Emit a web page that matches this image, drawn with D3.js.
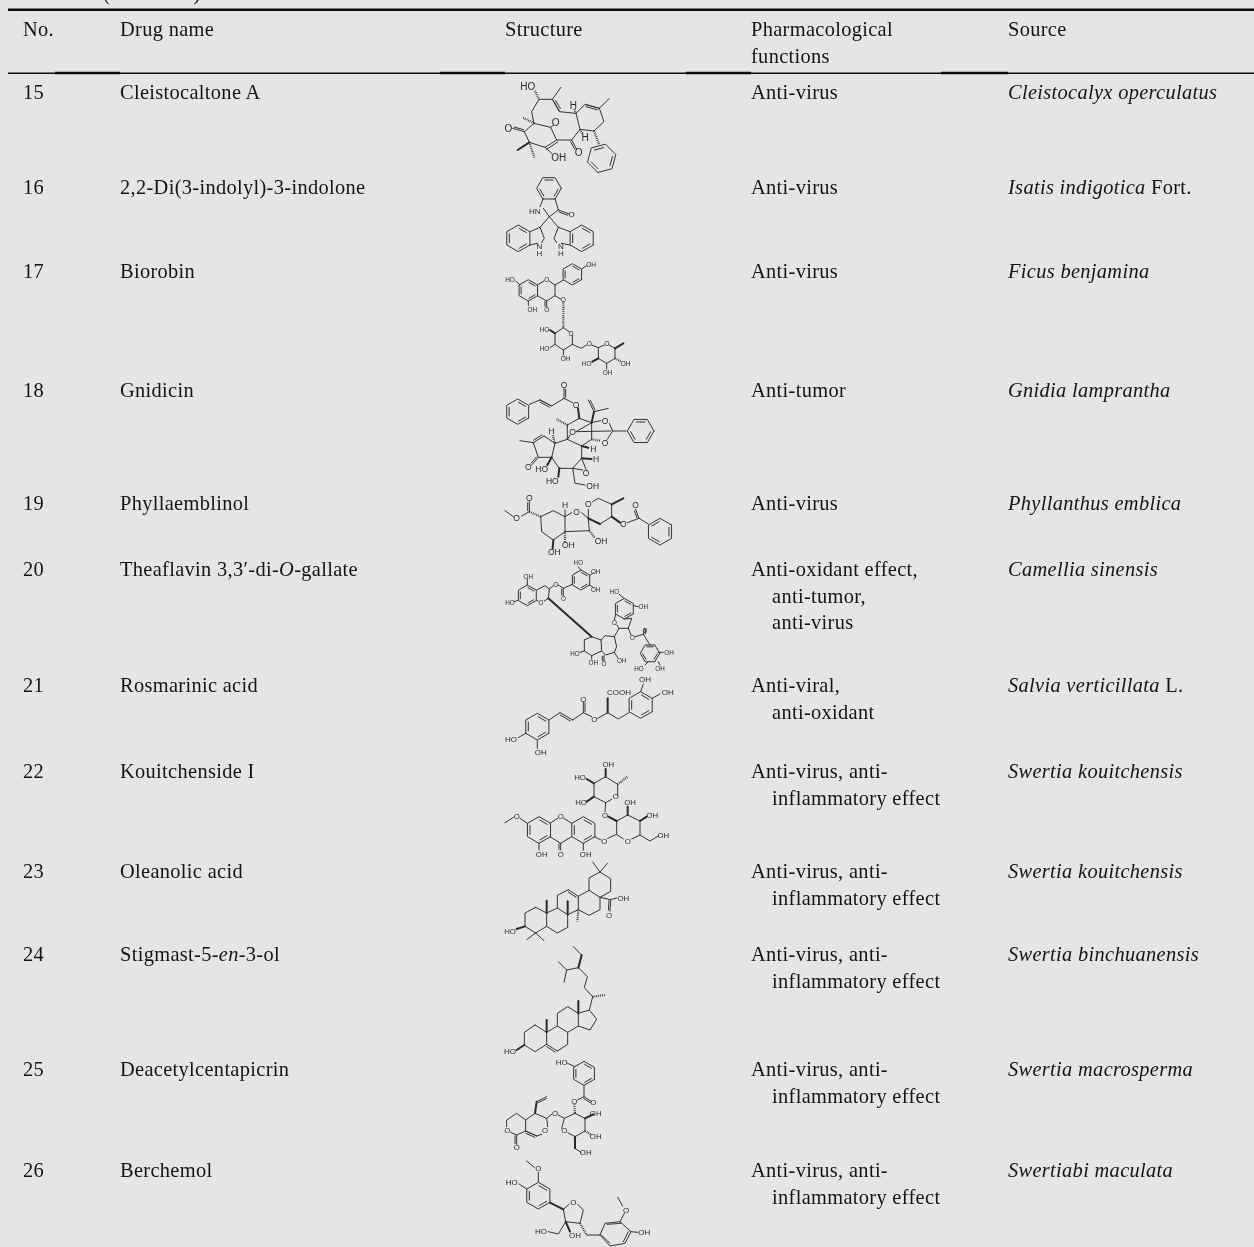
<!DOCTYPE html>
<html><head><meta charset="utf-8">
<style>html,body{margin:0;padding:0;background:#e5e5e5}svg{display:block;filter:blur(0.35px)}</style>
<script src="https://cdn.jsdelivr.net/npm/d3@7/dist/d3.min.js"></script>
</head><body><script>
const columnHeads = [["No."],["Drug name"],["Structure"],["Pharmacological","functions"],["Source"]];
const drugNumbers = [15,16,17,18,19,20,21,22,23,24,25,26];
const drugNames = ["Cleistocaltone A","2,2-Di(3-indolyl)-3-indolone","Biorobin","Gnidicin","Phyllaemblinol","Theaflavin 3,3′-di-*O*-gallate","Rosmarinic acid","Kouitchenside I","Oleanolic acid","Stigmast-5-*en*-3-ol","Deacetylcentapicrin","Berchemol"];
const drugFunctions = [["Anti-virus"],["Anti-virus"],["Anti-virus"],["Anti-tumor"],["Anti-virus"],["Anti-oxidant effect,","anti-tumor,","anti-virus"],["Anti-viral,","anti-oxidant"],["Anti-virus, anti-","inflammatory effect"],["Anti-virus, anti-","inflammatory effect"],["Anti-virus, anti-","inflammatory effect"],["Anti-virus, anti-","inflammatory effect"],["Anti-virus, anti-","inflammatory effect"]];
const drugSources = ["*Cleistocalyx operculatus*","*Isatis indigotica* Fort.","*Ficus benjamina*","*Gnidia lamprantha*","*Phyllanthus emblica*","*Camellia sinensis*","*Salvia verticillata* L.","*Swertia kouitchensis*","*Swertia kouitchensis*","*Swertia binchuanensis*","*Swertia macrosperma*","*Swertiabi maculata*"];

// page layout
const W = 1254, H = 1247;
const columnX = [23,120,505,751,1008];
const rowBaseline = [99,194,278,397,510,576,692,778,878,961,1076,1177];
const lineGap = 26.6, indent = 21, fontPx = 20.4, tracking = 0.33;

// skeletal formulae, traced in 3x crop units
const molecules = [
{ox:490,oy:70,fs:10,
 line:[[147,88,187,88,213,52],[187,88,208,125,258,130],[147,88,125,125,132,160],[132,160,182,172,200,210,165,232,118,217,103,185,132,160],[182,172,190,165],[165,232,185,250],[200,210,245,210,270,178,258,130,285,103,328,115,358,85],[328,115,342,155,312,183,270,178]],
 dbl:[[103,185,68,175,5],[245,210,260,238,5],[190,92,208,122,-6],[203,216,170,238,0],[285,103,328,115,6]],
 bold:[[118,217,83,240]],hash:[[135,62,147,88],[118,217,133,262],[132,160,97,142],[312,183,328,225],[258,130,252,115],[270,178,278,192]],
 hex:[[335,265,44,105]],
 text:[[113,50,"HO"],[197,158,"O"],[55,175,"O"],[206,262,"OH"],[266,248,"O"],[250,105,"H"],[285,201,"H"]]},
{ox:490,oy:70,fs:8,
 line:[[160,385,150,410],[160,415,178,440,205,420,195,385],[178,440,150,472,163,505,155,518],[143,520,120,525],[120,485,150,472],[178,440,205,472,192,505,200,518],[214,520,240,525],[240,485,205,472]],
 dbl:[[205,420,238,432,5]],hex:[[177,355,37,0],[85,505,40,30],[275,505,40,30]],
 text:[[134,423,"HN"],[245,433,"O"],[148,530,"N"],[148,550,"H"],[213,530,"N"],[213,550,"H"]]},
{ox:495,oy:255,fs:6.5,
 line:[[127,90,147,78],[163,78,180,90,180,122,155,138,127,122],[180,90,205,75],[260,42,275,32],[75,90,62,78],[100,138,100,152],[180,122,197,132],[205,218,222,230],[232,240,232,268,205,285,180,268,180,235,205,218],[180,268,165,278],[205,285,205,300],[232,268,258,280,275,270],[290,270,310,278,310,310,335,325,360,310,360,280,342,270],[328,270,310,278],[310,310,292,320],[335,325,335,342]],
 dbl:[[155,138,155,155,5]],bold:[[180,235,165,225],[360,280,385,265],[310,310,292,320]],hash:[[205,140,205,218],[360,310,378,320]],
 hex:[[100,106,32,30],[232,58,32,30]],
 text:[[45,73,"HO"],[155,73,"O"],[288,28,"OH"],[112,162,"OH"],[155,163,"O"],[205,132,"O"],[228,235,"O"],[148,222,"HO"],[148,280,"HO"],[212,310,"OH"],[283,265,"O"],[335,265,"O"],[275,325,"HO"],[392,325,"OH"],[338,352,"OH"]]},
{ox:490,oy:370,fs:8.5,
 line:[[118,103,150,90],[150,90,185,108,222,85,248,98],[268,145,232,165],[268,145,305,158,305,208,275,228,232,208,232,165],[312,125,355,115],[305,158,332,152],[358,160,368,183,408,183],[368,183,352,208],[232,208,195,220,162,198],[130,218,145,262,185,262,195,220],[130,218,90,212],[185,262,208,295,248,295,275,265,275,228],[248,295,255,340,285,345],[248,295,278,300],[275,265,288,298],[240,195,232,208],[258,185,305,158],[258,185,362,183]],
 dbl:[[162,198,130,218,6],[150,90,185,108,6],[222,85,222,55,5],[312,125,295,90,5],[145,262,125,285,5]],
 bold:[[264,115,268,145],[305,158,312,125],[185,262,172,285],[208,295,205,320],[275,228,295,233],[275,265,305,267]],
 hash:[[232,165,200,148],[305,208,330,212],[195,220,188,195]],
 hex:[[83,125,38,30],[452,183,40,0]],
 text:[[222,44,"O"],[258,104,"O"],[345,152,"O"],[345,218,"O"],[115,292,"O"],[155,297,"HO"],[187,333,"HO"],[308,347,"OH"],[288,308,"O"],[185,182,"H"],[310,237,"H"],[318,267,"H"],[248,187,"O"]]},
{ox:490,oy:370,fs:8.5,
 line:[[118,425,95,438],[70,440,45,422],[152,440,190,422,225,440,225,485,190,510,155,485,152,440],[225,440,245,428],[275,428,295,445,298,482,225,485],[295,445,295,418],[308,395,325,385,365,403,365,440,330,462,295,445],[412,458,447,445,475,462],[225,420,225,440]],
 dbl:[[118,395,118,425,5],[437,418,447,445,5]],
 bold:[[365,403,400,385],[365,440,390,458],[190,510,188,535],[295,445,330,462]],
 hash:[[118,425,152,440],[298,482,315,505],[225,485,225,518]],
 hex:[[510,485,40,-30]],
 text:[[118,385,"O"],[80,443,"O"],[225,405,"H"],[260,425,"O"],[295,403,"O"],[400,463,"O"],[437,405,"O"],[333,513,"OH"],[235,525,"OH"],[193,545,"OH"]]},
{ox:495,oy:565,fs:6.3,
 line:[[97,60,97,42],[70,105,58,110],[125,75,150,62,163,72,160,100,148,108],[130,110,125,105],[163,72,175,62],[190,60,205,70,232,58],[285,30,295,24],[285,60,295,68],[250,5,258,15],[268,225,268,258,290,272,320,258,318,225,290,215,268,225],[318,225,330,212,358,215,365,245,358,262,332,270,320,258],[358,262,368,278],[268,258,255,262],[290,272,290,282],[358,215,372,190],[387,100,373,88],[415,122,430,125],[362,147,358,165],[365,180,372,190,400,190,410,160,388,162],[400,190,408,210],[420,215,445,208,465,240],[490,262,505,262],[460,290,450,300],[490,290,495,300]],
 dbl:[[205,70,205,92,5],[327,272,327,288,5],[445,208,448,190,5]],
 bold:[[160,100,290,215]],
 hex:[[97,91,31,30],[258,45,30,30],[388,131,31,30],[465,265,29,0]],
 text:[[100,33,"OH"],[45,113,"HO"],[138,112,"O"],[182,58,"O"],[205,100,"O"],[250,-8,"HO"],[302,20,"OH"],[302,72,"OH"],[327,295,"O"],[380,285,"OH"],[240,265,"HO"],[295,292,"OH"],[358,80,"HO"],[445,125,"OH"],[358,172,"O"],[412,217,"O"],[450,197,"O"],[522,263,"OH"],[495,310,"OH"],[432,310,"HO"]]},
{ox:495,oy:670,fs:8,
 line:[[162,150,195,128],[233,150,265,128],[265,128,290,140],[308,145,338,128,370,147,402,128],[437,65,445,42],[472,85,495,72],[92,190,70,203],[127,212,127,235]],
 dbl:[[195,128,233,150,6],[265,128,265,95,5]],bold:[[338,128,338,85]],
 hex:[[127,170,40,30],[437,105,40,30]],
 text:[[265,88,"O"],[298,148,"O"],[372,68,"COOH"],[450,28,"OH"],[518,68,"OH"],[48,208,"HO"],[137,248,"OH"]]},
{ox:495,oy:755,fs:7.8,
 line:[[165,205,188,190],[206,190,230,205],[230,245,197,265,165,245],[97,205,75,190],[55,187,30,203],[132,265,132,285],[265,265,265,285],[298,245,318,255],[338,250,365,238,385,252],[410,252,435,240,435,198,398,180,365,198,365,238],[435,240,465,258,490,243],[330,170,332,143,350,133],[368,120,368,88,332,65,297,85,297,125,332,143]],
 dbl:[[197,265,197,285,5]],
 bold:[[435,198,455,185],[398,180,398,155],[365,198,340,185],[297,125,275,140],[297,85,275,72],[332,65,332,42]],
 hash:[[368,88,398,65]],
 hex:[[132,225,40,30],[265,225,40,30]],
 text:[[65,183,"O"],[197,185,"O"],[140,297,"OH"],[197,297,"O"],[272,297,"OH"],[328,258,"O"],[398,258,"O"],[505,240,"OH"],[472,182,"OH"],[405,143,"OH"],[330,182,"O"],[362,125,"O"],[258,143,"HO"],[255,67,"HO"],[340,28,"OH"]]},
{ox:495,oy:858,fs:7.8,
 line:[[122,148,155,165,155,205,122,225,90,205,90,165,122,148],[155,165,187,150,218,170,218,208,187,225,155,205],[187,150,187,112,220,95],[250,115,250,155,218,170],[250,115,282,97,315,118,315,155,282,172,250,155],[282,97,282,60,315,42,347,62,347,100,315,118],[315,42,293,12],[315,42,338,15],[315,118,347,125,365,120],[122,225,95,245],[122,225,147,248]],
 dbl:[[220,95,250,115,6],[347,125,345,160,5]],
 bold:[[155,165,155,128],[218,170,218,130],[90,205,65,213]],hash:[[250,155,247,190]],
 text:[[385,120,"OH"],[342,172,"O"],[45,220,"HO"]]},
{ox:495,oy:945,fs:8,
 line:[[120,240,155,262,155,298,120,320,88,300,88,262,120,240],[155,262,187,243,218,262,218,298,187,318],[187,243,187,205,218,185,250,205,250,243,218,262],[250,205,283,195,305,222,285,255,250,243],[283,195,293,155],[293,155,268,128,277,95,250,68,215,75,190,50],[215,75,207,112],[260,30,235,5]],
 dbl:[[155,298,187,318,6]],
 bold:[[155,262,155,225],[250,205,250,168],[88,300,65,315],[250,68,260,30]],hash:[[293,155,330,150]],
 text:[[45,318,"HO"]]},
{ox:495,oy:1055,fs:7.8,
 line:[[240,35,218,25],[267,92,267,125],[267,125,248,135],[240,175,270,190,270,228,240,245,218,233],[200,220,208,190,240,175],[208,190,190,180],[170,178,155,190,158,215],[140,238,125,243],[155,190,120,175,92,195,92,228,125,243],[92,195,65,175,35,195,35,215],[47,232,65,240,92,228],[240,280,258,292]],
 dbl:[[267,125,290,140,5],[65,240,65,268,5],[92,228,125,243,6],[125,140,155,125,5]],
 bold:[[120,175,125,140],[270,190,295,178],[240,245,240,280]],hash:[[238,148,240,175],[270,228,290,240]],
 hex:[[267,55,36,30]],
 text:[[200,22,"HO"],[295,143,"O"],[238,140,"O"],[302,175,"OH"],[302,243,"OH"],[272,293,"OH"],[208,225,"O"],[180,175,"O"],[150,225,"O"],[37,225,"O"],[65,277,"O"]]},
{ox:495,oy:1160,fs:8,
 line:[[130,37,130,65],[118,22,95,3],[95,87,72,72],[205,148,222,133],[248,133,265,150,255,190,212,185,205,148],[212,185,190,222,160,215],[275,225,315,225],[315,225,330,190,375,185,408,215,390,250,345,258,315,225],[336,193,378,190],[400,215,385,245],[345,250,320,226],[408,215,428,217],[375,185,388,160],[383,138,368,112]],
 bold:[[165,128,205,148],[212,185,225,215]],hash:[[255,190,275,225]],
 hex:[[130,107,40,30]],
 text:[[130,25,"O"],[50,67,"HO"],[235,127,"O"],[138,215,"HO"],[240,225,"OH"],[448,217,"OH"],[393,150,"O"]]}
];

const ink = "#141414", bondInk = "#2a2a2a", serif = "'Liberation Serif','Times New Roman',serif";
const svg = d3.select("body").append("svg").attr("width",W).attr("height",H);
svg.append("rect").attr("width",W).attr("height",H).attr("fill","#e5e5e5");

// table caption cut off at the top edge, as in the source page
svg.append("text").attr("x",35).attr("y",0).attr("font-family",serif).attr("font-size",fontPx).attr("letter-spacing",tracking).attr("fill",ink).text("Table 1  (continued)");

// rules
const rules = [[8,W,9.8,2.6],[8,W,73.2,1.5],[55,120,73,2.4],[440,505,73,2.4],[686,751,73,2.4],[941,1008,73,2.4]];
svg.selectAll("line.rule").data(rules).join("line").attr("class","rule")
  .attr("x1",d=>d[0]).attr("x2",d=>d[1]).attr("y1",d=>d[2]).attr("y2",d=>d[2])
  .attr("stroke","#0c0c0c").attr("stroke-width",d=>d[3]);

function rich(sel,str){
  str.split("*").forEach((part,i)=>{ if(part) sel.append("tspan").attr("font-style",i%2?"italic":"normal").text(part); });
}
function cell(x,y,str){
  const t = svg.append("text").attr("x",x).attr("y",y).attr("font-family",serif).attr("font-size",fontPx).attr("letter-spacing",tracking).attr("fill",ink).attr("xml:space","preserve");
  rich(t,str); return t;
}
columnHeads.forEach((lines,c)=>lines.forEach((s,i)=>cell(columnX[c],36+i*lineGap,s)));
drugNumbers.forEach((n,r)=>{
  const y = rowBaseline[r];
  cell(columnX[0],y,String(n));
  cell(columnX[1],y,drugNames[r]);
  drugFunctions[r].forEach((s,i)=>cell(columnX[3]+(i?indent:0),y+i*lineGap,s));
  cell(columnX[4],y,drugSources[r]);
});

// structures
const line = d3.line();
function pairs(a){ const p=[]; for(let i=0;i<a.length;i+=2) p.push([a[i],a[i+1]]); return p; }
molecules.forEach(m=>{
  const sx = d3.scaleLinear().domain([0,3]).range([m.ox,m.ox+1]);
  const sy = d3.scaleLinear().domain([0,3]).range([m.oy,m.oy+1]);
  const g = svg.append("g").attr("fill","none").attr("stroke",bondInk).attr("stroke-linecap","round").attr("stroke-linejoin","round");
  const path = (pts,w,dash)=>{ const e=g.append("path").attr("d",line(pts.map(p=>[sx(p[0]),sy(p[1])]))).attr("stroke-width",w); if(dash) e.attr("stroke-dasharray",dash).attr("stroke-linecap","butt"); };
  (m.line||[]).forEach(a=>path(pairs(a),0.95));
  (m.bold||[]).forEach(a=>path(pairs(a),2));
  (m.hash||[]).forEach(a=>path(pairs(a),2.2,"0.8,1.1"));
  (m.dbl||[]).forEach(a=>{
    const [x1,y1,x2,y2,off]=a, dx=x2-x1, dy=y2-y1, len=Math.hypot(dx,dy), nx=-dy/len*off, ny=dx/len*off;
    path([[x1,y1],[x2,y2]],0.95);
    if(off) path([[x1+nx+dx*.1,y1+ny+dy*.1],[x2+nx-dx*.1,y2+ny-dy*.1]],0.95);
  });
  (m.hex||[]).forEach(([cx,cy,r,rot])=>{
    const v=d3.range(6).map(i=>{const a=(rot+60*i)*Math.PI/180;return [cx+r*Math.cos(a),cy+r*Math.sin(a)];});
    path(v.concat([v[0]]),0.95);
    [0,2,4].forEach(i=>{
      const p=v[i], q=v[(i+1)%6], k=.78;
      const ip=[cx+(p[0]-cx)*k,cy+(p[1]-cy)*k], iq=[cx+(q[0]-cx)*k,cy+(q[1]-cy)*k];
      path([[ip[0]+(iq[0]-ip[0])*.08,ip[1]+(iq[1]-ip[1])*.08],[iq[0]-(iq[0]-ip[0])*.08,iq[1]-(iq[1]-ip[1])*.08]],0.95);
    });
  });
  (m.text||[]).forEach(([x,y,s])=>svg.append("text").attr("x",sx(x)).attr("y",sy(y)).attr("text-anchor","middle").attr("dominant-baseline","central")
    .attr("font-family","'Liberation Sans',Arial,sans-serif").attr("font-size",m.fs).attr("fill",bondInk).text(s));
});
</script></body></html>
